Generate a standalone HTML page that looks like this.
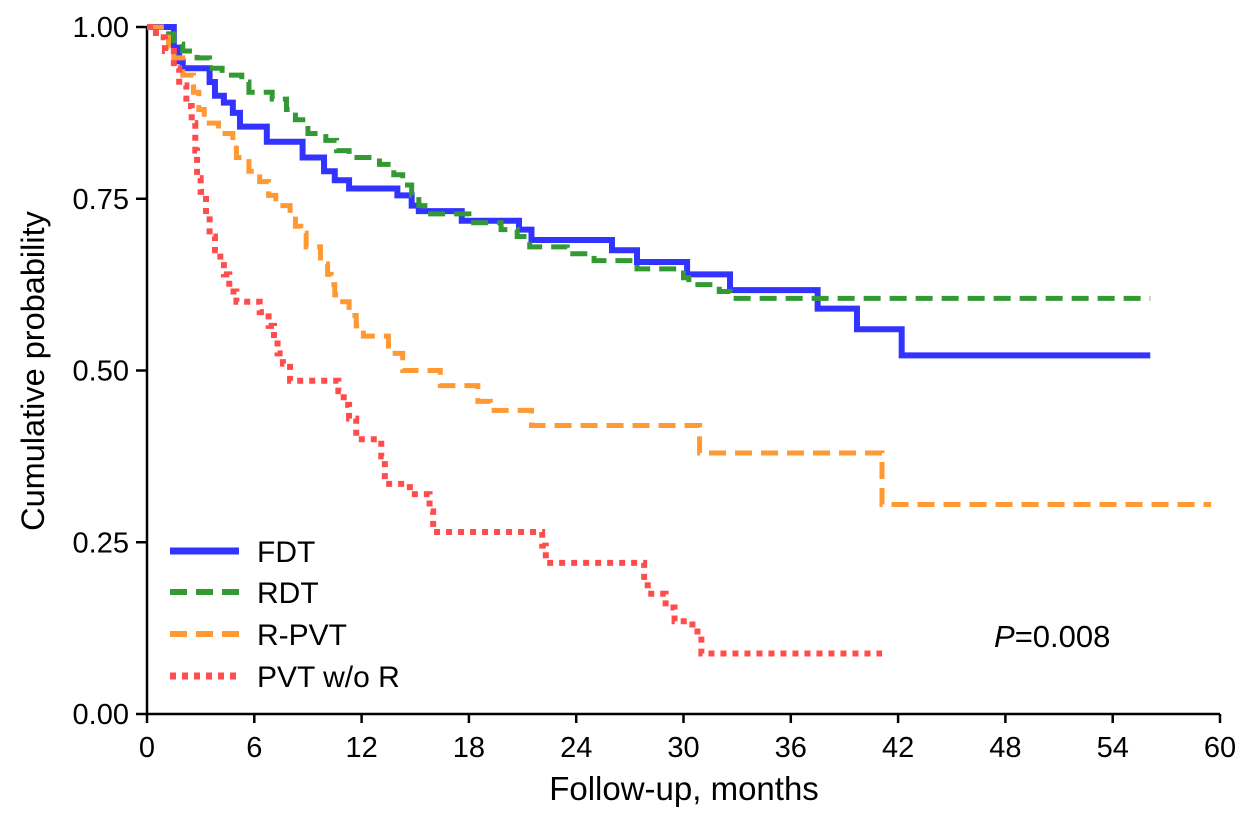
<!DOCTYPE html>
<html><head><meta charset="utf-8"><style>
body{margin:0;background:#fff}
svg{display:block;font-family:"Liberation Sans",Arial,sans-serif}
</style></head><body>
<svg id="chart" width="1246" height="818">
<g id="axes"></g>
<g id="series"></g>
<g id="legend"></g>
<text x="994" y="647" font-size="31"><tspan font-style="italic">P</tspan>=0.008</text>
<text x="684" y="800" font-size="33" text-anchor="middle">Follow-up, months</text>
<text transform="translate(44,371) rotate(-90)" font-size="32.5" text-anchor="middle">Cumulative probability</text>
</svg>
<script>
const xTicks=[0,6,12,18,24,30,36,42,48,54,60];
const yTicks=[0,0.25,0.5,0.75,1.0];
const yTickLabels=["0.00","0.25","0.50","0.75","1.00"];
const seriesNames=["FDT","RDT","R-PVT","PVT w/o R"];
const fdtT=[0,1.5,1.8,2.0,3.5,3.8,4.3,4.8,5.2,6.7,8.7,9.9,10.5,11.3,14.0,14.8,15.2,17.6,20.8,21.5,26.0,27.4,30.2,32.6,37.5,39.7,42.2,56.1];
const fdtS=[1,0.97,0.95,0.94,0.92,0.90,0.89,0.875,0.855,0.833,0.81,0.79,0.777,0.765,0.755,0.74,0.732,0.718,0.705,0.69,0.675,0.658,0.64,0.617,0.59,0.56,0.522,0.522];
const rdtT=[0,1,1.5,2,2.8,3.5,4.2,5.3,5.7,7,7.8,8.3,9,10,10.6,11.3,13,13.8,14.3,14.8,15.2,15.7,18,19.8,20.7,21.4,23.5,25,27.4,30,30.3,32,32.6,56.1];
const rdtS=[1,0.99,0.975,0.965,0.955,0.94,0.93,0.92,0.905,0.895,0.88,0.865,0.845,0.835,0.82,0.81,0.80,0.785,0.77,0.755,0.74,0.728,0.715,0.705,0.695,0.68,0.67,0.66,0.648,0.635,0.625,0.615,0.605,0.605];
const rpvtT=[0,0.8,1.2,1.5,2,2.6,2.9,3.2,4,4.8,5,5.7,6.3,6.8,7.2,8,8.3,8.6,8.9,9.7,10.1,10.3,10.5,10.8,11.3,11.7,12.1,13.5,14.3,16.4,18.5,19.2,21.5,30.9,41.1,59.5];
const rpvtS=[1,0.985,0.97,0.955,0.93,0.905,0.88,0.86,0.845,0.83,0.81,0.79,0.775,0.755,0.74,0.725,0.71,0.70,0.68,0.655,0.64,0.625,0.61,0.60,0.58,0.565,0.55,0.525,0.50,0.478,0.455,0.442,0.42,0.38,0.305,0.305];
const pvtT=[0,0.5,1,1.5,1.8,2.2,2.5,2.7,2.8,3,3.3,3.5,3.8,4.1,4.3,4.6,5,6.3,6.8,7.1,7.3,7.6,8,10.7,11,11.3,11.7,13.1,13.3,14.7,15.8,16,22.1,22.3,27.8,28,29,29.5,30.5,31,41.1];
const pvtS=[1,0.985,0.965,0.94,0.915,0.885,0.86,0.82,0.78,0.76,0.72,0.695,0.675,0.66,0.64,0.615,0.60,0.585,0.565,0.545,0.525,0.51,0.485,0.47,0.45,0.43,0.40,0.375,0.335,0.32,0.295,0.265,0.245,0.22,0.195,0.175,0.155,0.135,0.12,0.088,0.088];
const X=m=>147+m*(1220-147)/60;
const Y=p=>714-p*(714-27);
const NS="http://www.w3.org/2000/svg";
function mk(tag,attrs,parent){const e=document.createElementNS(NS,tag);for(const k in attrs)e.setAttribute(k,attrs[k]);parent.appendChild(e);return e;}
const axes=document.getElementById('axes');
let a=mk('path',{d:`M${X(0)},${Y(1)} V${Y(0)} H${X(60)}`,fill:'none',stroke:'#000','stroke-width':2.5},axes);


xTicks.forEach(t=>{
 let l=mk('line',{x1:X(t),x2:X(t),y1:714,y2:723,stroke:'#000','stroke-width':2.5},axes);
 
 
 let tx=mk('text',{x:X(t),y:757,'font-size':29,'text-anchor':'middle'},axes);tx.textContent=t;
 
 
});
yTicks.forEach((t,i)=>{
 let l=mk('line',{x1:136,x2:147,y1:Y(t),y2:Y(t),stroke:'#000','stroke-width':2.5},axes);
 
 
 let tx=mk('text',{x:129,y:Y(t)+10,'font-size':29,'text-anchor':'end'},axes);tx.textContent=yTickLabels[i];
 
 
});
const styles=[
 {c:'#3333ff',w:6,d:'none'},
 {c:'#339933',w:5,d:'17 9'},
 {c:'#ff9933',w:5,d:'17 9'},
 {c:'#ff4d4d',w:6,d:'6 6'}];
const data=[[fdtT,fdtS],[rdtT,rdtS],[rpvtT,rpvtS],[pvtT,pvtS]];
const names=['fdt-curve','rdt-curve','r-pvt-curve','pvt-wo-r-curve'];
const sg=document.getElementById('series');
data.forEach(([T,S],i)=>{
 let d=`M${X(T[0])},${Y(S[0])}`;
 for(let k=1;k<T.length;k++){d+=` H${X(T[k])} V${Y(S[k])}`;}
 let p=mk('path',{d,fill:'none',stroke:styles[i].c,'stroke-width':styles[i].w,'stroke-dasharray':styles[i].d},sg);
 
 
});
const lg=document.getElementById('legend');
const ly=[551,592,634,676];
seriesNames.forEach((n,i)=>{
 let l=mk('line',{x1:170,x2:239,y1:ly[i],y2:ly[i],stroke:styles[i].c,'stroke-width':styles[i].w+1,'stroke-dasharray':styles[i].d},lg);
 
 
 let t=mk('text',{x:257,y:ly[i]+11,'font-size':30},lg);t.textContent=n;
 
 
});
</script>
</body></html>
